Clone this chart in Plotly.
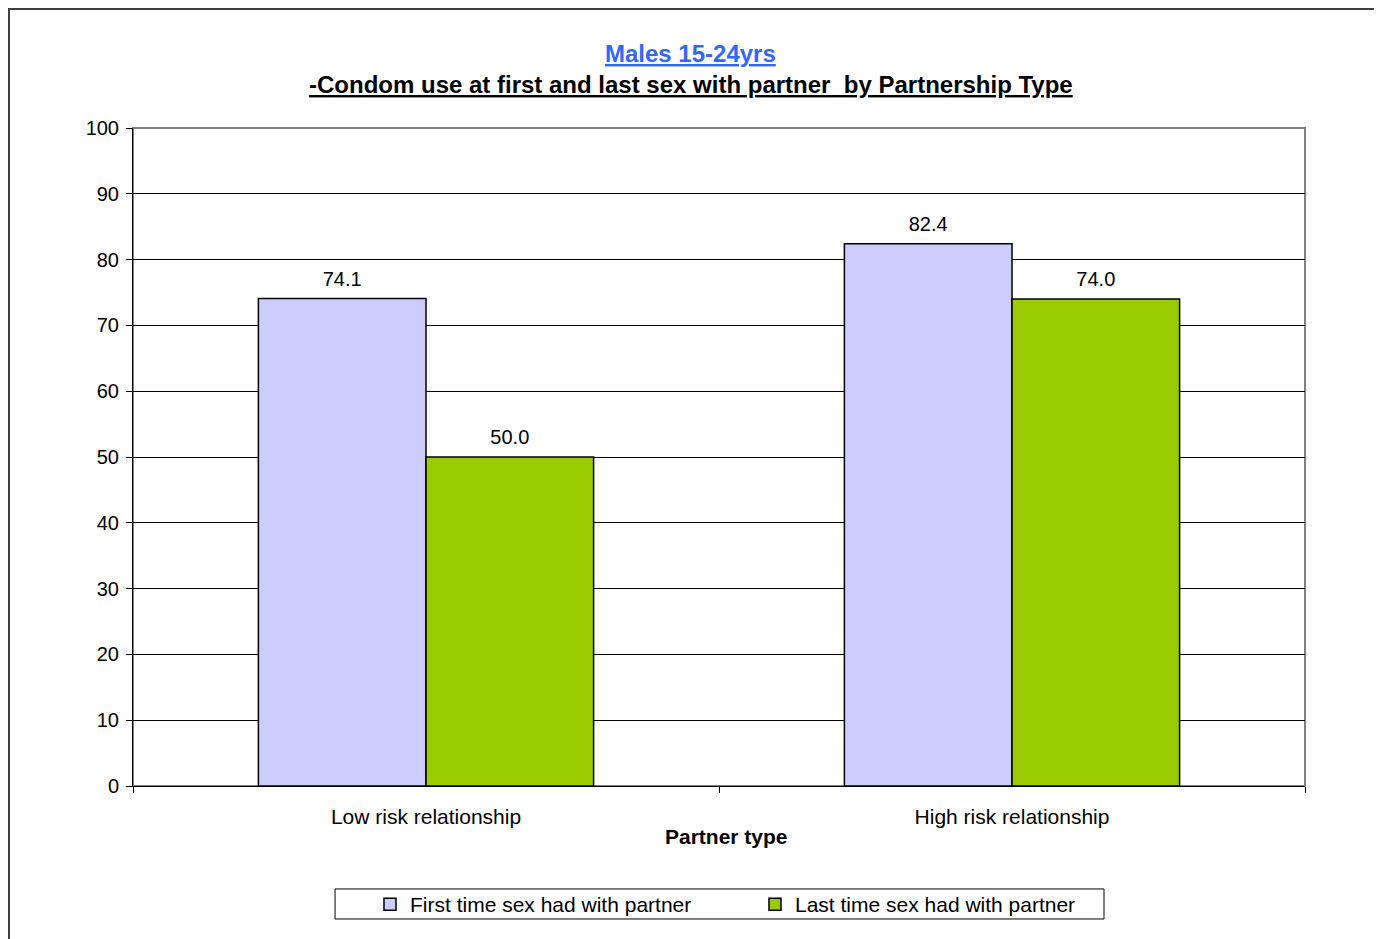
import plotly.graph_objects as go

categories = ["Low risk relationship", "High risk relationship"]
first_time = [74.1, 82.4]
last_time = [50.0, 74.0]
series_names = ["First time sex had with partner", "Last time sex had with partner"]
y_ticks = [0, 10, 20, 30, 40, 50, 60, 70, 80, 90, 100]

FONT = "Liberation Sans, Arial, sans-serif"
colors = ["#CCCCFF", "#99CC00"]

fig = go.Figure()
for i, (vals, name) in enumerate(zip([first_time, last_time], series_names)):
    fig.add_trace(go.Bar(
        x=categories, y=vals, name=name, offsetgroup=str(i), alignmentgroup="a",
        marker=dict(color=colors[i], line=dict(color="#000000", width=1.5)),
    ))
for i, vals in enumerate([first_time, last_time]):
    fig.add_trace(go.Scatter(
        x=categories, y=vals, mode="markers+text", offsetgroup=str(i), alignmentgroup="a",
        marker=dict(size=11, color="rgba(0,0,0,0)"),
        text=[f"{v:.1f}" for v in vals], textposition="top center",
        textfont=dict(family=FONT, size=20, color="#000000"),
        showlegend=False, hoverinfo="skip", cliponaxis=False,
    ))

fig.update_layout(
    width=1374, height=931,
    margin=dict(l=125, r=77, t=120, b=153),
    paper_bgcolor="white", plot_bgcolor="white",
    barmode="group", bargap=0.428, bargroupgap=0,
    scattermode="group", scattergap=0.428,
    font=dict(family=FONT, size=20, color="#000000"),
    showlegend=True,
    legend=dict(
        orientation="h", x=0.2022, xanchor="left", y=-0.149, yanchor="top",
        borderwidth=0, bgcolor="rgba(0,0,0,0)",
        font=dict(family=FONT, size=21, color="#000000"),
        itemwidth=30, entrywidth=340, traceorder="normal",
    ),
    xaxis=dict(
        type="category", showline=True, linecolor="#000000", linewidth=1,
        ticks="outside", tickson="boundaries", ticklen=6, tickcolor="#000000",
        showgrid=False, tickfont=dict(family=FONT, size=21), ticklabelstandoff=12,
        automargin=False,
    ),
    yaxis=dict(
        range=[0, 100], tickvals=y_ticks, showline=True, linecolor="#000000", linewidth=1,
        ticks="outside", ticklen=6, tickcolor="#000000", automargin=False,
        showgrid=True, gridcolor="#000000", gridwidth=1, zeroline=False,
        tickfont=dict(family=FONT, size=20), ticklabelstandoff=3,
    ),
    shapes=[
        dict(type="rect", xref="paper", yref="paper", x0=0, x1=1, y0=0, y1=1,
             line=dict(color="#808080", width=2), layer="below"),
        dict(type="path", xref="paper", yref="paper",
             path="M -0.1058,-0.25 L -0.1058,1.1809 L 1.0606,1.1809 L 1.0606,-0.25",
             line=dict(color="#404040", width=2)),
        dict(type="rect", xref="paper", yref="paper", x0=0.1724, x1=0.8285,
             y0=-0.2021, y1=-0.1565, line=dict(color="#000000", width=1),
             fillcolor="white", layer="below"),
    ],
    annotations=[
        dict(text="<b><u>Males 15-24yrs</u></b>", xref="paper", yref="paper",
             x=0.476, y=1.1125, xanchor="center", yanchor="middle", showarrow=False,
             font=dict(family=FONT, size=24, color="#3366FF")),
        dict(text="<b><u>-Condom use at first and last sex with partner  by Partnership Type</u></b>",
             xref="paper", yref="paper", x=0.476, y=1.0654, xanchor="center", yanchor="middle",
             showarrow=False, font=dict(family=FONT, size=24, color="#000000")),
        dict(text="<b>Partner type</b>", xref="paper", yref="paper",
             x=0.5068, y=-0.076, xanchor="center", yanchor="middle", showarrow=False,
             font=dict(family=FONT, size=21, color="#000000")),
    ],
)

fig.write_html("out.html")
